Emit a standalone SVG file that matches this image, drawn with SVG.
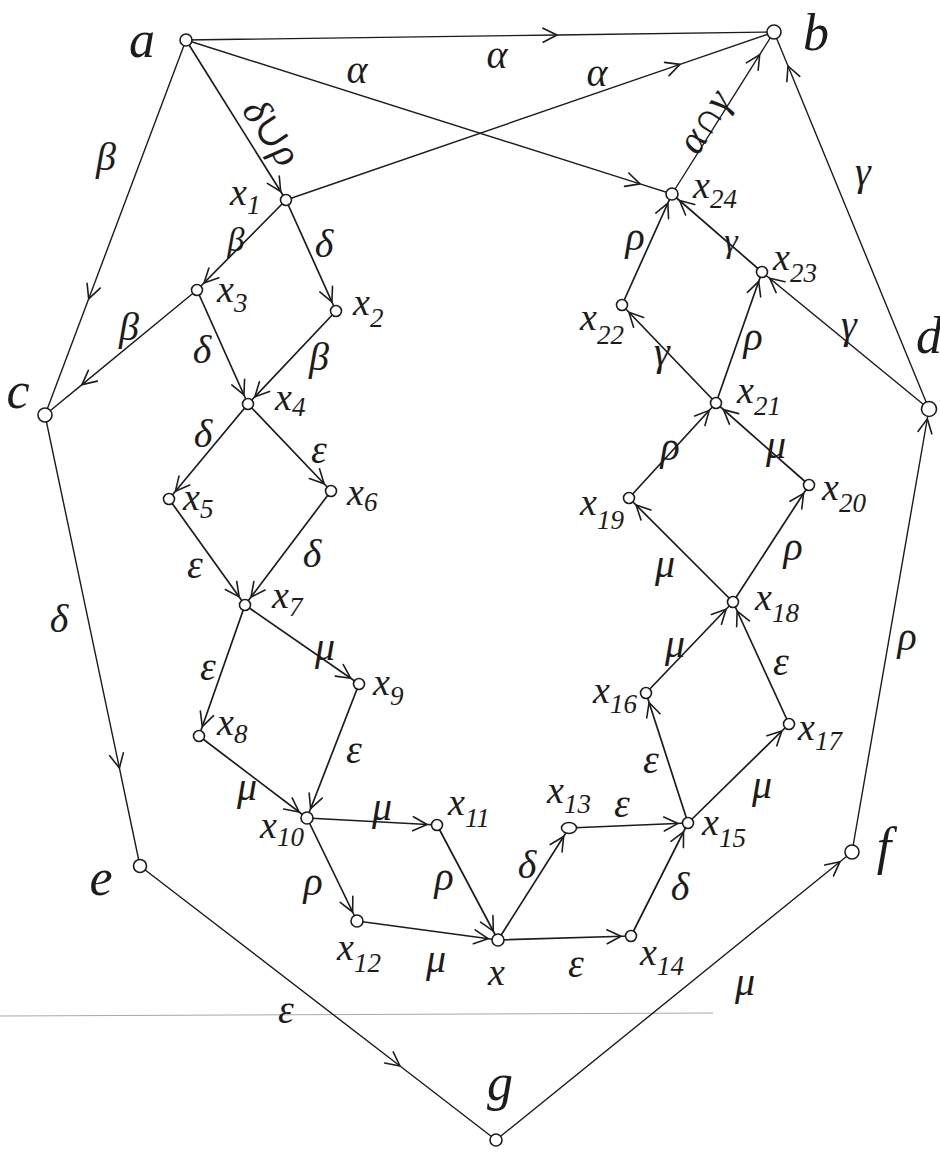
<svg xmlns="http://www.w3.org/2000/svg" width="940" height="1155" viewBox="0 0 940 1155">
<style>
.e{fill:none;stroke:#1c1c1c;stroke-width:1.7;stroke-linecap:round}
.o{stroke-width:1.4}
.ae{marker-end:url(#ae)}
.am{marker-mid:url(#am)}
.n{fill:#fff;stroke:#1c1c1c;stroke-width:1.6}
text{font-family:"Liberation Serif","DejaVu Serif",serif;font-style:italic;fill:#1c1c1c}
.nl{font-size:52px;text-anchor:middle}
.xl{font-size:38px}
.s{font-size:27px}
.gl{font-size:40px;text-anchor:middle}
.sm{font-size:34px}
</style>
<defs>
<marker id="ae" viewBox="0 0 30 20" refX="24" refY="10" markerWidth="30" markerHeight="20" markerUnits="userSpaceOnUse" orient="auto" overflow="visible">
<path d="M0,3 L14,10 L0,17" fill="none" stroke="#1c1c1c" stroke-width="1.6" stroke-linecap="round" stroke-linejoin="round"/>
</marker>
<marker id="am" viewBox="0 0 30 20" refX="14" refY="10" markerWidth="30" markerHeight="20" markerUnits="userSpaceOnUse" orient="auto" overflow="visible">
<path d="M0,3 L14,10 L0,17" fill="none" stroke="#1c1c1c" stroke-width="1.6" stroke-linecap="round" stroke-linejoin="round"/>
</marker>
</defs>
<rect width="940" height="1155" fill="#fff"/>
<line x1="0" y1="1016" x2="713" y2="1013" stroke="#a8a8a8" stroke-width="1"/>
<g id="connectors">
<path class="e o am" d="M186,40 L557,35 L774,32"/>
<path class="e o am" d="M186,40 L640,183.9 L672,194"/>
<path class="e o am" d="M286,200 L680,64.4 L774,32"/>
<path class="e ae" d="M186,40 L286,200"/>
<path class="e o am" d="M186,40 L88.7,298.8 L45,415"/>
<path class="e ae" d="M286,200 L197,290"/>
<path class="e ae" d="M286,200 L336,311"/>
<path class="e o am" d="M197,290 L82,384.6 L45,415"/>
<path class="e ae" d="M197,290 L248,404"/>
<path class="e ae" d="M336,311 L248,404"/>
<path class="e ae" d="M248,404 L169,499"/>
<path class="e ae" d="M248,404 L331,491"/>
<path class="e ae" d="M169,499 L245,605"/>
<path class="e ae" d="M331,491 L245,605"/>
<path class="e ae" d="M245,605 L359,684"/>
<path class="e ae" d="M245,605 L199,736"/>
<path class="e ae" d="M199,736 L307,818"/>
<path class="e ae" d="M359,684 L307,818"/>
<path class="e ae" d="M307,818 L437,825"/>
<path class="e ae" d="M307,818 L357,921"/>
<path class="e ae" d="M437,825 L498,940"/>
<path class="e ae" d="M357,921 L498,940"/>
<path class="e ae" d="M498,940 L569,828"/>
<path class="e ae" d="M498,940 L631,936"/>
<path class="e ae" d="M569,828 L688,823"/>
<path class="e ae" d="M631,936 L688,823"/>
<path class="e ae" d="M688,823 L646,693"/>
<path class="e ae" d="M688,823 L789,724"/>
<path class="e ae" d="M646,693 L733,602"/>
<path class="e ae" d="M789,724 L733,602"/>
<path class="e ae" d="M733,602 L629,498"/>
<path class="e ae" d="M733,602 L809,485"/>
<path class="e ae" d="M629,498 L716,403"/>
<path class="e ae" d="M809,485 L716,403"/>
<path class="e ae" d="M716,403 L622,305"/>
<path class="e ae" d="M716,403 L762,272"/>
<path class="e o ae" d="M929,409 L762,272"/>
<path class="e ae" d="M622,305 L672,194"/>
<path class="e ae" d="M762,272 L672,194"/>
<path class="e o am" d="M672,194 L759.7,54.7 L774,32"/>
<path class="e o am" d="M929,409 L788,66 L774,32"/>
<path class="e o am" d="M45,415 L119.4,768 L140,866"/>
<path class="e o am" d="M140,866 L400,1066 L496,1140"/>
<path class="e o am" d="M496,1140 L840,861.7 L852,852"/>
<path class="e o ae" d="M852,852 L929,409"/>
</g>
<g id="edge-labels">
<text class="gl" x="497" y="68">α</text>
<text class="gl" x="357" y="83">α</text>
<text class="gl" x="597" y="86">α</text>
<text class="gl" x="0" y="0" transform="translate(271,133) rotate(56)" dy="12">δ∪ρ</text>
<text class="gl" x="0" y="0" transform="translate(705,122) rotate(-58)" dy="12">α∩γ</text>
<text class="gl" x="106" y="170">β</text>
<text class="gl sm" x="236" y="251">β</text>
<text class="gl" x="324" y="257">δ</text>
<text class="gl" x="129" y="340">β</text>
<text class="gl" x="202" y="363">δ</text>
<text class="gl" x="319" y="370">β</text>
<text class="gl" x="203" y="447">δ</text>
<text class="gl" x="319" y="463">ε</text>
<text class="gl" x="195" y="578">ε</text>
<text class="gl" x="312" y="567">δ</text>
<text class="gl" x="325" y="660">μ</text>
<text class="gl" x="208" y="680">ε</text>
<text class="gl" x="354" y="763">ε</text>
<text class="gl" x="247" y="800">μ</text>
<text class="gl" x="382" y="820">μ</text>
<text class="gl" x="313" y="895">ρ</text>
<text class="gl" x="444" y="890">ρ</text>
<text class="gl" x="436" y="972">μ</text>
<text class="gl" x="527" y="878">δ</text>
<text class="gl" x="576" y="977">ε</text>
<text class="gl" x="622" y="817">ε</text>
<text class="gl" x="680" y="900">δ</text>
<text class="gl" x="651" y="773">ε</text>
<text class="gl" x="762" y="798">μ</text>
<text class="gl" x="675" y="657">μ</text>
<text class="gl" x="781" y="675">ε</text>
<text class="gl" x="665" y="577">μ</text>
<text class="gl" x="793" y="560">ρ</text>
<text class="gl" x="670" y="460">ρ</text>
<text class="gl" x="776" y="458">μ</text>
<text class="gl" x="662" y="365">γ</text>
<text class="gl" x="753" y="350">ρ</text>
<text class="gl" x="849" y="338">γ</text>
<text class="gl" x="635" y="250">ρ</text>
<text class="gl sm" x="731" y="252">γ</text>
<text class="gl" x="863" y="185">γ</text>
<text class="gl" x="59" y="632">δ</text>
<text class="gl" x="286" y="1023">ε</text>
<text class="gl" x="745" y="995">μ</text>
<text class="gl" x="907" y="650">ρ</text>
</g>
<g id="node-a"><circle class="n" cx="186" cy="40" r="6"/><text class="nl" x="142" y="57">a</text></g>
<g id="node-b"><circle class="n" cx="774" cy="32" r="7"/><text class="nl" x="816" y="50">b</text></g>
<g id="node-c"><circle class="n" cx="45" cy="415" r="7"/><text class="nl" x="18" y="408">c</text></g>
<g id="node-d"><circle class="n" cx="929" cy="409" r="7.5"/><text class="nl" x="929" y="353">d</text></g>
<g id="node-e"><circle class="n" cx="140" cy="866" r="6.5"/><text class="nl" x="101" y="895">e</text></g>
<g id="node-f"><circle class="n" cx="852" cy="852" r="7"/><text class="nl" x="884" y="864">f</text></g>
<g id="node-g"><circle class="n" cx="496" cy="1140" r="6"/><text class="nl" x="500" y="1100">g</text></g>
<g id="node-x1"><circle class="n" cx="286" cy="200" r="5.5"/><text class="xl" x="230" y="205">x<tspan class="s" dy="9">1</tspan></text></g>
<g id="node-x2"><circle class="n" cx="336" cy="311" r="5.5"/><text class="xl" x="353" y="315">x<tspan class="s" dy="12">2</tspan></text></g>
<g id="node-x3"><circle class="n" cx="197" cy="290" r="5.5"/><text class="xl" x="217" y="302">x<tspan class="s" dy="10">3</tspan></text></g>
<g id="node-x4"><circle class="n" cx="248" cy="404" r="5.5"/><text class="xl" x="275" y="410">x<tspan class="s" dy="6">4</tspan></text></g>
<g id="node-x5"><circle class="n" cx="169" cy="499" r="5.5"/><text class="xl" x="183" y="510">x<tspan class="s" dy="8">5</tspan></text></g>
<g id="node-x6"><circle class="n" cx="331" cy="491" r="5.5"/><text class="xl" x="347" y="505">x<tspan class="s" dy="6">6</tspan></text></g>
<g id="node-x7"><circle class="n" cx="245" cy="605" r="5.5"/><text class="xl" x="272" y="608">x<tspan class="s" dy="8">7</tspan></text></g>
<g id="node-x8"><circle class="n" cx="199" cy="736" r="5.5"/><text class="xl" x="217" y="735">x<tspan class="s" dy="8">8</tspan></text></g>
<g id="node-x9"><circle class="n" cx="359" cy="684" r="5.5"/><text class="xl" x="373" y="695">x<tspan class="s" dy="10">9</tspan></text></g>
<g id="node-x10"><circle class="n" cx="307" cy="818" r="6"/><text class="xl" x="260" y="838">x<tspan class="s" dy="8">10</tspan></text></g>
<g id="node-x11"><circle class="n" cx="437" cy="825" r="5.5"/><text class="xl" x="448" y="815">x<tspan class="s" dy="12">11</tspan></text></g>
<g id="node-x12"><circle class="n" cx="357" cy="921" r="6"/><text class="xl" x="337" y="960">x<tspan class="s" dy="12">12</tspan></text></g>
<g id="node-x"><circle class="n" cx="498" cy="940" r="6"/><text class="xl" x="488" y="985">x</text></g>
<g id="node-x13"><ellipse class="n" cx="569" cy="828" rx="7.5" ry="5.5"/><text class="xl" x="547" y="803">x<tspan class="s" dy="10">13</tspan></text></g>
<g id="node-x14"><circle class="n" cx="631" cy="936" r="5.5"/><text class="xl" x="640" y="965">x<tspan class="s" dy="10">14</tspan></text></g>
<g id="node-x15"><circle class="n" cx="688" cy="823" r="5.5"/><text class="xl" x="702" y="835">x<tspan class="s" dy="12">15</tspan></text></g>
<g id="node-x16"><circle class="n" cx="646" cy="693" r="5.5"/><text class="xl" x="593" y="703">x<tspan class="s" dy="10">16</tspan></text></g>
<g id="node-x17"><circle class="n" cx="789" cy="724" r="5.5"/><text class="xl" x="798" y="740">x<tspan class="s" dy="10">17</tspan></text></g>
<g id="node-x18"><circle class="n" cx="733" cy="602" r="5.5"/><text class="xl" x="755" y="610">x<tspan class="s" dy="12">18</tspan></text></g>
<g id="node-x19"><circle class="n" cx="629" cy="498" r="5.5"/><text class="xl" x="580" y="515">x<tspan class="s" dy="14">19</tspan></text></g>
<g id="node-x20"><circle class="n" cx="809" cy="485" r="5.5"/><text class="xl" x="822" y="500">x<tspan class="s" dy="12">20</tspan></text></g>
<g id="node-x21"><circle class="n" cx="716" cy="403" r="5.5"/><text class="xl" x="737" y="403">x<tspan class="s" dy="12">21</tspan></text></g>
<g id="node-x22"><circle class="n" cx="622" cy="305" r="5.5"/><text class="xl" x="580" y="330">x<tspan class="s" dy="14">22</tspan></text></g>
<g id="node-x23"><circle class="n" cx="762" cy="272" r="5.5"/><text class="xl" x="773" y="270">x<tspan class="s" dy="12">23</tspan></text></g>
<g id="node-x24"><circle class="n" cx="672" cy="194" r="6"/><text class="xl" x="693" y="198">x<tspan class="s" dy="10">24</tspan></text></g>
</svg>
